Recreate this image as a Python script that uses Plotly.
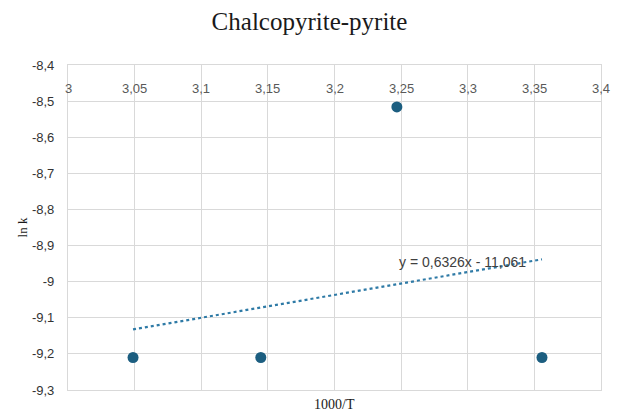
import plotly.graph_objects as go

inv_T = [3.0488, 3.1447, 3.2468, 3.3557]
ln_k = [-9.21, -9.21, -8.516, -9.21]
slope = 0.6326
intercept = -11.061
trend_x = [3.0488, 3.3557]
trend_y = [slope * x + intercept for x in trend_x]
x_ticks = [3, 3.05, 3.1, 3.15, 3.2, 3.25, 3.3, 3.35, 3.4]
y_ticks = [-8.4, -8.5, -8.6, -8.7, -8.8, -8.9, -9.0, -9.1, -9.2, -9.3]

SANS = "Liberation Sans Narrow, Liberation Sans, Arial"
SERIF = "Liberation Serif, Times New Roman, serif"

fig = go.Figure()
fig.add_trace(go.Scatter(x=trend_x, y=trend_y, mode="lines",
                         line=dict(color="#2e7aa6", width=2.2, dash="dot"),
                         showlegend=False, hoverinfo="skip"))
fig.add_trace(go.Scatter(x=inv_T, y=ln_k, mode="markers",
                         marker=dict(color="#1c5e80", size=11),
                         showlegend=False))

fig.add_annotation(x=3.296, y=-8.946, xref="x", yref="y",
                   text="y = 0,6326x - 11,061", showarrow=False,
                   font=dict(family=SANS, size=14, color="#404040"))

for v in x_ticks:
    fig.add_annotation(x=v, y=1, xref="x", yref="paper", yshift=-23,
                       text=("%g" % v).replace(".", ","), showarrow=False,
                       yanchor="middle", xanchor="center",
                       font=dict(family=SANS, size=13, color="#595959"))

fig.update_layout(
    width=619, height=416,
    margin=dict(l=68, r=18, t=65, b=26),
    paper_bgcolor="white", plot_bgcolor="white",
    separators=", ",
    title=dict(text="Chalcopyrite-pyrite", x=0.5, xanchor="center", y=0.948, yanchor="middle",
               font=dict(family=SERIF, size=25, color="#1a1a1a")),
    xaxis=dict(range=[3, 3.4], tickvals=x_ticks, showticklabels=False, ticks="",
               showgrid=True, gridcolor="#d9d9d9", gridwidth=1.2, zeroline=False,
               showline=True, linecolor="#d9d9d9", linewidth=1.2, mirror=True,
               title=None),
    yaxis=dict(range=[-9.3, -8.4], tickvals=y_ticks,
               ticktext=[("%g" % v).replace(".", ",") for v in y_ticks],
               showgrid=True, gridcolor="#d9d9d9", gridwidth=1.2, zeroline=False,
               showline=True, linecolor="#d9d9d9", linewidth=1.2, mirror=True,
               ticks="", ticklabelstandoff=10,
               tickfont=dict(family=SANS, size=13, color="#333333"),
               title=dict(text="ln k", standoff=1,
                          font=dict(family=SERIF, size=13, color="#1a1a1a"))),
)
fig.add_annotation(x=0.5, y=-0.045, xref="paper", yref="paper", text="1000/T",
                   showarrow=False, yanchor="middle",
                   font=dict(family=SERIF, size=14, color="#1a1a1a"))
fig.write_html("out.html")
